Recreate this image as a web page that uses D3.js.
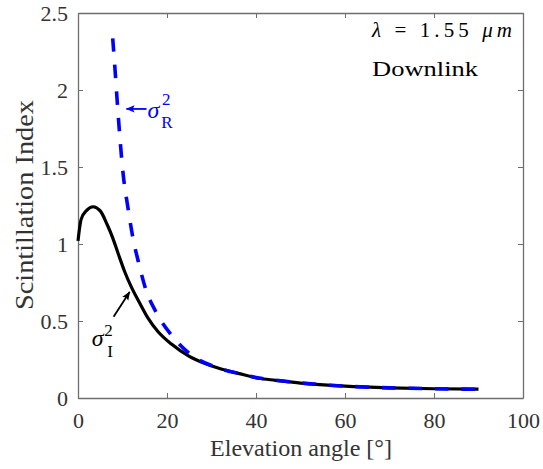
<!DOCTYPE html>
<html>
<head>
<meta charset="utf-8">
<script src="https://cdn.jsdelivr.net/npm/d3@7"></script>
<style>
  body { margin: 0; background: #fff; }
</style>
</head>
<body>
<div id="chart"><svg width="543" height="469" font-family="Liberation Serif"></svg></div>
<script>
// scintillation index (black solid)
const sigIx = [0, 0.7, 2, 3.4, 5, 6.5, 7.8, 9, 10.5, 12, 13.7, 15.7, 18, 21, 25, 28.7, 32, 36, 40.6, 44.4, 50, 60, 70, 80, 90];
const sigIy = [1.02, 1.16, 1.22, 1.242, 1.215, 1.13, 1.04, 0.94, 0.82, 0.72, 0.625, 0.52, 0.43, 0.35, 0.27, 0.222, 0.19, 0.16, 0.128, 0.115, 0.097, 0.077, 0.066, 0.06, 0.057];
// Rytov variance (blue dashed)
const sigRx = [7.8, 8.4, 8.95, 10.2, 11.2, 12.3, 13.65, 15.3, 17.5, 21.3, 25, 31, 36, 40.6, 44.4, 50, 60, 70, 80, 90];
const sigRy = [2.335, 2.1, 1.87, 1.44, 1.24, 1.047, 0.875, 0.70, 0.56, 0.398, 0.29, 0.2, 0.16, 0.13, 0.116, 0.098, 0.077, 0.066, 0.06, 0.057];

const xTicks = [0, 20, 40, 60, 80, 100];
const yTicks = [0, 0.5, 1, 1.5, 2, 2.5];

const mLeft = 78, mRight = 523, mTop = 13, mBottom = 398;
const axisCol = "#6e6e6e", textCol = "#333";
const serif = "Liberation Serif";

const svg = d3.select("svg");
const xs = d3.scaleLinear().domain([0, 100]).range([mLeft, mRight]);
const ys = d3.scaleLinear().domain([0, 2.5]).range([mBottom, mTop]);

// ticks on all four sides, pointing in
svg.append("g").attr("transform", "translate(0," + mBottom + ")")
  .call(d3.axisBottom(xs).tickValues(xTicks).tickSizeInner(-5).tickSizeOuter(0).tickPadding(14).tickFormat(d3.format("d")));
svg.append("g").attr("transform", "translate(0," + mTop + ")")
  .call(d3.axisTop(xs).tickValues(xTicks).tickSizeInner(-5).tickSizeOuter(0).tickFormat(""));
svg.append("g").attr("transform", "translate(" + mLeft + ",0)")
  .call(d3.axisLeft(ys).tickValues(yTicks).tickSizeInner(-5).tickSizeOuter(0).tickPadding(10).tickFormat(d => d));
svg.append("g").attr("transform", "translate(" + mRight + ",0)")
  .call(d3.axisRight(ys).tickValues(yTicks).tickSizeInner(-5).tickSizeOuter(0).tickFormat(""));

svg.selectAll("g").attr("font-family", serif);
svg.selectAll(".domain").attr("stroke", axisCol).attr("stroke-width", 1.3);
svg.selectAll(".tick line").attr("stroke", axisCol);
svg.selectAll(".tick text").attr("fill", textCol).attr("font-size", 22);

svg.append("text").attr("x", 301).attr("y", 456)
  .attr("text-anchor", "middle").attr("fill", textCol).attr("font-size", 24)
  .attr("textLength", 182).attr("lengthAdjust", "spacingAndGlyphs")
  .text("Elevation angle [°]");
svg.append("text").attr("transform", "translate(33,205) rotate(-90)")
  .attr("text-anchor", "middle").attr("fill", textCol).attr("font-size", 26)
  .attr("textLength", 210).attr("lengthAdjust", "spacingAndGlyphs")
  .text("Scintillation Index");

const line = d3.line().curve(d3.curveMonotoneX);

svg.append("path")
  .attr("d", line(sigIx.map((x, i) => [xs(x), ys(sigIy[i])])))
  .attr("fill", "none").attr("stroke", "#000").attr("stroke-width", 3.2);

svg.append("path")
  .attr("d", line(sigRx.map((x, i) => [xs(x), ys(sigRy[i])])))
  .attr("fill", "none").attr("stroke", "#0000ff").attr("stroke-width", 3.6)
  .attr("stroke-dasharray", "13.5,13");

// arrow heads
const defs = svg.append("defs");
[["ahB", "#0000ff"], ["ahK", "#000"]].forEach(([id, c]) => {
  defs.append("marker").attr("id", id).attr("viewBox", "0 -5 10 10")
    .attr("refX", 9).attr("refY", 0).attr("markerWidth", 9).attr("markerHeight", 9)
    .attr("markerUnits", "userSpaceOnUse").attr("orient", "auto")
    .append("path").attr("d", "M0,-4L10,0L0,4L2,0Z").attr("fill", c);
});

function label(x, y, size, col, txt, italic) {
  return svg.append("text").attr("x", x).attr("y", y).attr("fill", col)
    .attr("font-size", size)
    .attr("font-style", italic ? "italic" : "normal").text(txt);
}

// sigma_R annotation
svg.append("line").attr("x1", xs(15.4)).attr("y1", ys(1.877)).attr("x2", xs(10.9)).attr("y2", ys(1.877))
  .attr("stroke", "#0000ff").attr("stroke-width", 1.8).attr("marker-end", "url(#ahB)");
label(xs(15.6), ys(1.818), 24, "#0000ff", "σ", true);
label(xs(18.9), ys(1.90), 17, "#0000ff", "2", false);
label(xs(18.7), ys(1.752), 17, "#0000ff", "R", false);

// sigma_I annotation
svg.append("line").attr("x1", xs(8.0)).attr("y1", ys(0.528)).attr("x2", xs(11.6)).attr("y2", ys(0.688))
  .attr("stroke", "#000").attr("stroke-width", 1.8).attr("marker-end", "url(#ahK)");
label(xs(3.1), ys(0.338), 24, "#000", "σ", true);
label(xs(5.9), ys(0.405), 17, "#000", "2", false);
label(xs(6.6), ys(0.268), 17, "#000", "I", false);

// wavelength / link annotation
const lam = label(372, 37, 21, "#000", "", false)
  .attr("textLength", 140).attr("lengthAdjust", "spacing");
lam.append("tspan").attr("font-style", "italic").text("λ");
lam.append("tspan").text(" = 1.55 ");
lam.append("tspan").attr("font-style", "italic").text("μm");
label(372, 76, 22, "#000", "Downlink", false)
  .attr("textLength", 106).attr("lengthAdjust", "spacingAndGlyphs");

svg.selectAll("text").attr("font-family", serif);

// re-parse the finished drawing as markup
const host = document.getElementById("chart");
host.innerHTML = host.innerHTML;
</script>
</body>
</html>
